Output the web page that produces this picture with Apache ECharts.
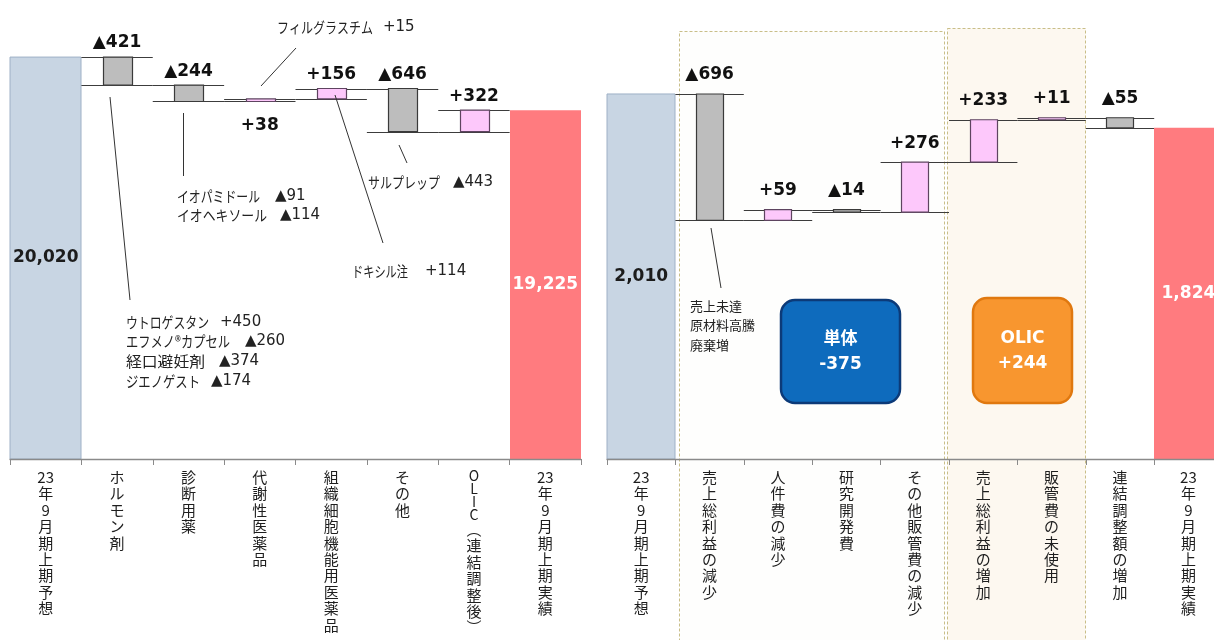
<!DOCTYPE html>
<html><head><meta charset="utf-8">
<script src="https://cdn.jsdelivr.net/npm/echarts@6/dist/echarts.min.js"></script>
<style>html,body{margin:0;padding:0;background:#fff}#c{width:1214px;height:640px}</style>
</head><body><div id="c"></div>
<script>
// ---------- data ----------
const leftCategories = ['23年9月期上期予想','ホルモン剤','診断用薬','代謝性医薬品','組織細胞機能用医薬品','その他','OLIC（連結調整後）','23年9月期上期実績'];
const leftStartValue = 20020;
const leftDeltas = [-421, -244, 38, 156, -646, 322];
const leftEndValue = 19225;

const rightCategories = ['23年9月期上期予想','売上総利益の減少','人件費の減少','研究開発費','その他販管費の減少','売上総利益の増加','販管費の未使用','連結調整額の増加','23年9月期上期実績'];
const rightStartValue = 2010;
const rightDeltas = [-696, 59, -14, 276, 233, 11, -55];
const rightEndValue = 1824;

const leftAxisRange = [14000, 20800];
const rightAxisRange = [0, 2500];

// callout texts: [product, change]
const noteFilgrastim = [['フィルグラスチム', '+15']];
const noteDiagnostic = [['イオパミドール', '▲91'], ['イオヘキソール', '▲114']];
const noteOther = [['サルプレップ', '▲443']];
const noteTissue = [['ドキシル注', '+114']];
const noteHormone = [['ウトロゲスタン', '+450'], ['エフメノ®カプセル', '▲260'], ['経口避妊剤', '▲374'], ['ジエノゲスト', '▲174']];
const noteGrossProfit = ['売上未達', '原材料高騰', '廃棄増'];
const badgeSingle = ['単体', '-375'];
const badgeOlic = ['OLIC', '+244'];

// ---------- helpers ----------
function buildWaterfall(start, deltas, end, base) {
  const rows = [[0, base, start, 0]];
  let level = start;
  deltas.forEach((d, k) => { rows.push([k + 1, level, level + d, 1]); level += d; });
  rows.push([deltas.length + 1, base, end, 2]);
  return rows;
}
function verticalText(s) {
  const map = { '（': '︵', '）': '︶' };
  const out = []; let buf = '';
  for (const ch of s) {
    if (/[0-9]/.test(ch)) { buf += ch; continue; }
    if (buf) { out.push(buf); buf = ''; }
    if (/[A-Za-z]/.test(ch)) out.push('{l|' + ch + '}');
    else out.push(map[ch] || ch);
  }
  if (buf) out.push(buf);
  return out.join('\n');
}
const crisp = v => Math.round(v) + 0.5;
const VALFONT = 'bold 17px "DejaVu Sans", "Noto Sans CJK JP", sans-serif';
const NAMEFONT = '15px "Noto Sans CJK JP", sans-serif';
const NUMFONT = '15px "DejaVu Sans", "Noto Sans CJK JP", sans-serif';
const measureCtx = document.createElement('canvas').getContext('2d');
function textWidth(t, font) { measureCtx.font = font; return measureCtx.measureText(t).width; }

function makeRenderer(labelGap, belowIdx) {
  return function (params, api) {
    const idx = api.value(0), from = api.value(1), to = api.value(2), kind = api.value(3);
    const band = api.size([1, 0])[0];
    const pFrom = api.coord([idx, from]);
    const pTo = api.coord([idx, to]);
    const cx = pFrom[0];
    const children = [];
    if (kind !== 1) {
      const isStart = kind === 0;
      children.push({
        type: 'rect',
        shape: { x: Math.round(cx - band / 2), y: pTo[1], width: Math.round(band), height: pFrom[1] - pTo[1] },
        style: { fill: isStart ? '#c8d5e3' : '#ff7b7f', stroke: isStart ? '#9eb0c6' : null, lineWidth: 1 }
      });
      children.push({
        type: 'text',
        style: { text: to.toLocaleString('en-US'), x: cx, y: (pFrom[1] + pTo[1]) / 2, fill: isStart ? '#1c1c1c' : '#ffffff',
          font: VALFONT, align: 'center', verticalAlign: 'middle' }
      });
    } else {
      const d = to - from;
      const y1 = crisp(pFrom[1]), y2 = crisp(pTo[1]);
      const top = Math.min(pFrom[1], pTo[1]), bot = Math.max(pFrom[1], pTo[1]);
      const w = band * 0.4;
      [y1, y2].forEach(y => children.push({
        type: 'line', shape: { x1: cx - band / 2, y1: y, x2: cx + band / 2, y2: y },
        style: { stroke: '#3c3c3c', lineWidth: 1.2 }
      }));
      children.push({
        type: 'rect', shape: { x: Math.round(cx - w / 2) + 0.5, y: top, width: Math.round(w), height: Math.max(bot - top, 1) },
        style: { fill: d < 0 ? '#bdbdbd' : '#fdc8fb', stroke: d < 0 ? '#3a3a3a' : '#5e4460', lineWidth: 1.2 }
      });
      const below = belowIdx.indexOf(idx) >= 0;
      children.push({
        type: 'text',
        style: { text: (d < 0 ? '▲' : '+') + Math.abs(d), x: cx, y: below ? bot + 24 : top - labelGap,
          fill: '#111', font: VALFONT, align: 'center', verticalAlign: 'middle' }
      });
    }
    return { type: 'group', children };
  };
}

// layout: for each line [nameX, nameWidth, valueX, y]
function notes(items, layout) {
  const els = [];
  items.forEach((it, k) => {
    const [nx, nw, vx, y] = layout[k];
    const s = nw / textWidth(it[0], NAMEFONT);
    els.push({ type: 'text', z: 10, x: nx, y: y, scaleX: s, scaleY: 1,
      style: { text: it[0], x: 0, y: 0, fill: '#222', font: NAMEFONT, verticalAlign: 'middle' } });
    els.push({ type: 'text', z: 10, style: { text: it[1], x: vx, y: y, fill: '#222', font: NUMFONT, verticalAlign: 'middle' } });
  });
  return els;
}
function plainNotes(lines, x, y0, step) {
  return lines.map((t, k) => ({
    type: 'text', z: 10,
    style: { text: t, x: x, y: y0 + k * step, fill: '#222', font: '13px "Noto Sans CJK JP", sans-serif', verticalAlign: 'middle' }
  }));
}
function leader(x1, y1, x2, y2) {
  return { type: 'line', z: 10, shape: { x1, y1, x2, y2 }, style: { stroke: '#333', lineWidth: 1 } };
}
function badge(x, y, w, h, fill, stroke, texts) {
  return [
    { type: 'rect', z: 10, shape: { x, y, width: w, height: h, r: 14 }, style: { fill, stroke, lineWidth: 2.5 } },
    { type: 'text', z: 11, style: { text: texts[0], x: x + w / 2, y: y + h / 2 - 12, fill: '#fff', align: 'center', verticalAlign: 'middle',
        font: 'bold 17px "DejaVu Sans", "Noto Sans CJK JP", sans-serif' } },
    { type: 'text', z: 11, style: { text: texts[1], x: x + w / 2, y: y + h / 2 + 13, fill: '#fff', align: 'center', verticalAlign: 'middle',
        font: 'bold 17px "DejaVu Sans", "Noto Sans CJK JP", sans-serif' } }
  ];
}

const axisCommon = {
  type: 'category', z: 5,
  axisLine: { lineStyle: { color: '#8a8a8a', width: 1.3 } },
  axisTick: { show: true, length: 6, interval: 0, alignWithLabel: false, lineStyle: { color: '#8a8a8a' } },
  axisLabel: { interval: 0, margin: 10, color: '#1e1e1e', fontSize: 15, lineHeight: 16.4,
    fontFamily: '"Noto Sans CJK JP", sans-serif', verticalAlign: 'top', formatter: verticalText,
    rich: { l: { fontSize: 14, lineHeight: 13, color: '#1e1e1e', fontFamily: '"Noto Sans CJK JP", sans-serif' } } },
  splitLine: { show: false }
};

const chart = echarts.init(document.getElementById('c'), null, { renderer: 'canvas' });
chart.setOption({
  animation: false,
  backgroundColor: '#ffffff',
  grid: [
    { left: 10, width: 571, top: 5, bottom: 181, outerBoundsMode: 'none', containLabel: false },
    { left: 607, width: 615.6, top: 5, bottom: 181, outerBoundsMode: 'none', containLabel: false }
  ],
  xAxis: [
    Object.assign({}, axisCommon, { gridIndex: 0, data: leftCategories }),
    Object.assign({}, axisCommon, { gridIndex: 1, data: rightCategories })
  ],
  yAxis: [
    { type: 'value', gridIndex: 0, min: leftAxisRange[0], max: leftAxisRange[1], show: false, splitLine: { show: false } },
    { type: 'value', gridIndex: 1, min: rightAxisRange[0], max: rightAxisRange[1], show: false, splitLine: { show: false } }
  ],
  series: [
    { type: 'custom', xAxisIndex: 0, yAxisIndex: 0, z: 4, clip: false,
      encode: { x: 0, y: [1, 2] },
      data: buildWaterfall(leftStartValue, leftDeltas, leftEndValue, leftAxisRange[0]),
      renderItem: makeRenderer(14, [3]) },
    { type: 'custom', xAxisIndex: 1, yAxisIndex: 1, z: 4, clip: false,
      encode: { x: 0, y: [1, 2] },
      data: buildWaterfall(rightStartValue, rightDeltas, rightEndValue, rightAxisRange[0]),
      renderItem: makeRenderer(19, []) }
  ],
  graphic: { elements: [
    { type: 'rect', z: 1, shape: { x: 679.5, y: 31.5, width: 265, height: 640 },
      style: { fill: '#fefefd', stroke: '#c9be88', lineWidth: 1, lineDash: [3, 2] } },
    { type: 'rect', z: 1, shape: { x: 947.5, y: 28.5, width: 138, height: 640 },
      style: { fill: '#fdf8f0', stroke: '#c9be88', lineWidth: 1, lineDash: [3, 2] } },
    ...notes(noteFilgrastim, [[277, 96, 383, 27]]),
    leader(296, 48, 261, 86),
    ...notes(noteDiagnostic, [[177, 83, 275, 196], [177, 90, 280, 215]]),
    leader(183.5, 113, 183.5, 176),
    ...notes(noteHormone, [[126, 83, 220, 322], [126, 104, 245, 341], [126, 79, 219, 361], [126, 74, 211, 381]]),
    leader(110, 97, 130, 300),
    ...notes(noteOther, [[368, 72, 453, 182]]),
    leader(399, 145, 407, 163),
    ...notes(noteTissue, [[352, 56, 425, 271]]),
    leader(335, 95, 383, 243),
    ...plainNotes(noteGrossProfit, 690, 306, 19.5),
    leader(711, 228, 721, 288),
    ...badge(781, 300, 119, 103, '#0e6bbd', '#0c3a78', badgeSingle),
    ...badge(973, 298, 99, 105, '#f8962f', '#e0780f', badgeOlic)
  ] }
});
</script></body></html>
